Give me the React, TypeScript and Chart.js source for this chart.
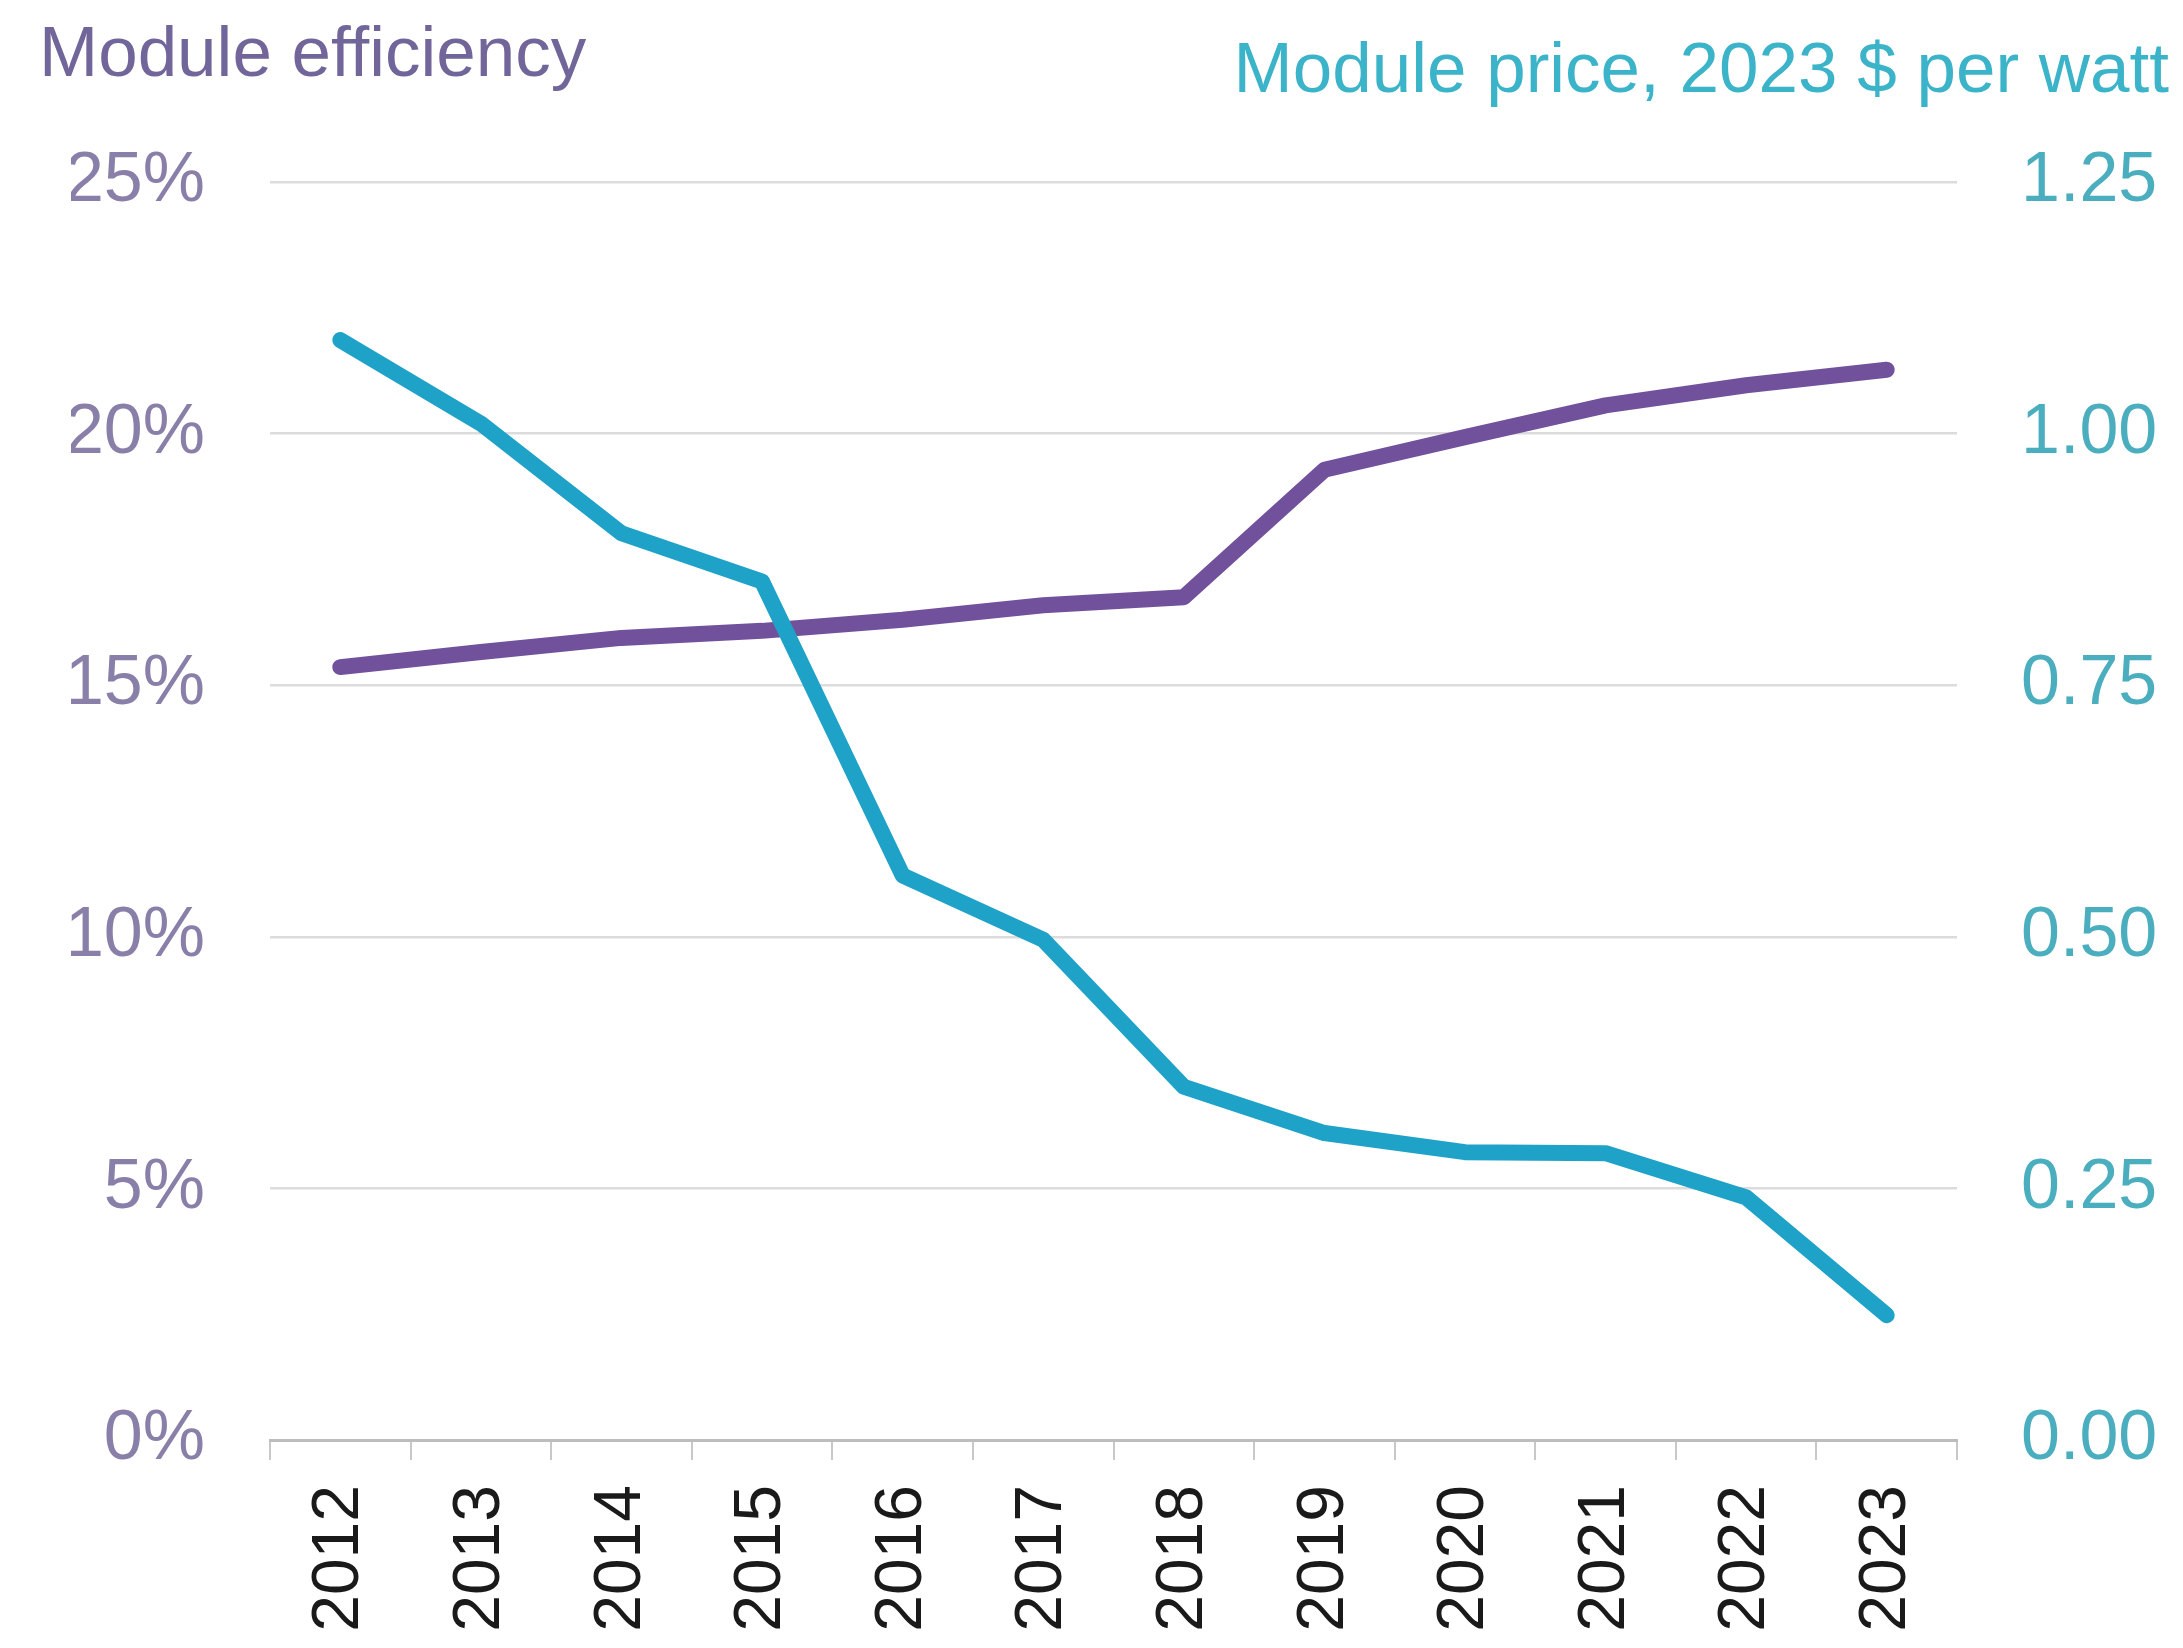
import React, { useEffect, useRef } from "react";
import { Chart, registerables } from "chart.js";

Chart.register(...registerables);

const years = ["2012", "2013", "2014", "2015", "2016", "2017", "2018", "2019", "2020", "2021", "2022", "2023"];
const moduleEfficiency = [15.36, 15.66, 15.94, 16.08, 16.3, 16.59, 16.75, 19.28, 19.93, 20.56, 20.96, 21.27];
const modulePrice = [1.093, 1.01, 0.901, 0.853, 0.561, 0.497, 0.351, 0.305, 0.286, 0.285, 0.241, 0.124];
const leftTitle = "Module efficiency";
const rightTitle = "Module price, 2023 $ per watt";

const FONT = "'Liberation Sans', Arial, Helvetica, sans-serif";
const PURPLE = "#71519c";
const TEAL = "#1fa2c8";

const titlesPlugin = {
  id: "cornerTitles",
  afterDraw(chart: any) {
    const ctx = chart.ctx;
    ctx.save();
    ctx.font = `71px ${FONT}`;
    ctx.textBaseline = "alphabetic";
    ctx.fillStyle = "#71659a";
    ctx.textAlign = "left";
    ctx.fillText(leftTitle, 39, 76);
    ctx.fillStyle = "#3bb3c9";
    ctx.textAlign = "right";
    ctx.fillText(rightTitle, 2169, 92);
    ctx.restore();
  },
};

export default function App() {
  const ref = useRef<HTMLCanvasElement>(null);
  useEffect(() => {
    document.body.style.margin = "0";
    const chart = new Chart(ref.current!, {
      type: "line",
      data: {
        labels: years,
        datasets: [
          {
            label: "Module price",
            data: modulePrice,
            yAxisID: "y1",
            borderColor: TEAL,
            backgroundColor: TEAL,
            borderWidth: 16,
            pointRadius: 0,
            tension: 0,
            borderCapStyle: "round",
            borderJoinStyle: "round",
            order: 0,
          },
          {
            label: "Module efficiency",
            data: moduleEfficiency,
            yAxisID: "y",
            borderColor: PURPLE,
            backgroundColor: PURPLE,
            borderWidth: 16,
            pointRadius: 0,
            tension: 0,
            borderCapStyle: "round",
            borderJoinStyle: "round",
            order: 1,
          },
        ],
      },
      options: {
        animation: false,
        responsive: false,
        devicePixelRatio: 1,
        layout: { padding: { left: 71, right: 0, top: 182, bottom: 0 } },
        plugins: {
          legend: { display: false },
          tooltip: { enabled: false },
          title: { display: false },
        },
        scales: {
          x: {
            type: "category",
            offset: true,
            afterFit: (s: any) => {
              s.height = 208;
            },
            grid: {
              offset: true,
              drawOnChartArea: false,
              drawTicks: true,
              tickLength: 20,
              color: "#c8c8c8",
              lineWidth: 2,
            },
            border: { display: true, color: "#bdbdbd", width: 3 },
            ticks: {
              minRotation: 90,
              maxRotation: 90,
              padding: 25,
              color: "#1a1a1a",
              font: { family: FONT, size: 66 },
            },
          },
          y: {
            position: "left",
            min: 0,
            max: 25,
            afterFit: (s: any) => {
              s.width = 199;
            },
            grid: { color: "#dcdcdc", lineWidth: 2.5, drawTicks: false },
            border: { display: false },
            ticks: {
              stepSize: 5,
              padding: 65,
              color: "#8a7fa8",
              font: { family: FONT, size: 70 },
              callback: (v: any) => `${v}%`,
            },
          },
          y1: {
            position: "right",
            min: 0,
            max: 1.25,
            afterFit: (s: any) => {
              s.width = 226;
            },
            grid: { display: false, drawOnChartArea: false, drawTicks: false },
            border: { display: false },
            ticks: {
              stepSize: 0.25,
              padding: 64,
              color: "#4aaebf",
              font: { family: FONT, size: 70 },
              callback: (v: any) => Number(v).toFixed(2),
            },
          },
        },
      },
      plugins: [titlesPlugin],
    } as any);
    return () => chart.destroy();
  }, []);
  return (
    <div style={{ width: 2183, height: 1648, background: "#ffffff" }}>
      <canvas ref={ref} width={2183} height={1648} style={{ display: "block" }} />
    </div>
  );
}
